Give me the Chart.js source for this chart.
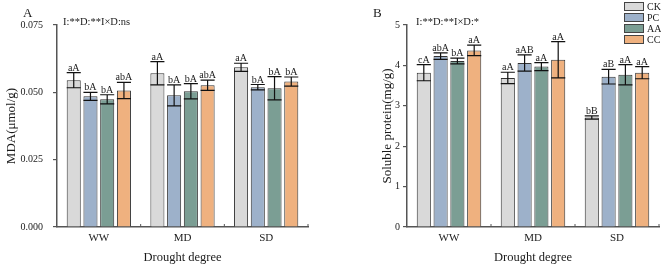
<!DOCTYPE html>
<html>
<head>
<meta charset="utf-8">
<script src="https://cdn.jsdelivr.net/npm/chart.js@4"></script>
<style>
  body { margin: 0; background: #fff; }
  #wrap { position: relative; width: 661px; height: 268px; }
  .panel { position: absolute; top: 0; height: 268px; }
</style>
</head>
<body>
<div id="wrap">
  <div class="panel" style="left:0;width:330px"><canvas id="chartA"></canvas></div>
  <div class="panel" style="left:330px;width:331px"><canvas id="chartB"></canvas></div>
</div>
<script>
const categories = ['WW', 'MD', 'SD'];
const treatments = ['CK', 'PC', 'AA', 'CC'];
const colors = ['#d9d9d9', '#9db1ca', '#7b9e94', '#efb17f'];

// MDA (umol/g)
const mdaCK = [0.0545, 0.0571, 0.0593];
const mdaPC = [0.0485, 0.0489, 0.0519];
const mdaAA = [0.0474, 0.0504, 0.0515];
const mdaCC = [0.0507, 0.0526, 0.0540];
const mdaErrCK = [0.0028, 0.0043, 0.0015];
const mdaErrPC = [0.0015, 0.0039, 0.0010];
const mdaErrAA = [0.0017, 0.0028, 0.0043];
const mdaErrCC = [0.0030, 0.0019, 0.0017];
const mdaLetCK = ['aA', 'aA', 'aA'];
const mdaLetPC = ['bA', 'bA', 'bA'];
const mdaLetAA = ['bA', 'bA', 'bA'];
const mdaLetCC = ['abA', 'abA', 'bA'];
const mdaTicks = [0, 0.025, 0.05, 0.075];

// Soluble protein (mg/g)
const protCK = [3.82, 3.69, 2.71];
const protPC = [4.23, 4.06, 3.72];
const protAA = [4.11, 3.97, 3.77];
const protCC = [4.37, 4.14, 3.82];
const protErrCK = [0.20, 0.14, 0.04];
const protErrPC = [0.08, 0.20, 0.18];
const protErrAA = [0.07, 0.10, 0.25];
const protErrCC = [0.13, 0.45, 0.15];
const protLetCK = ['cA', 'aA', 'bB'];
const protLetPC = ['abA', 'aAB', 'aB'];
const protLetAA = ['bA', 'aA', 'aA'];
const protLetCC = ['aA', 'aA', 'aA'];
const protTicks = [0, 1, 2, 3, 4, 5];

Chart.defaults.font.family = "'Liberation Serif', 'DejaVu Serif', serif";
Chart.defaults.color = '#1a1a1a';

const serif = "'Liberation Serif', serif";
const axisColor = '#555';

function makeDatasets(values, errors, letters) {
    return treatments.map(function(t, i) {
        return {
            label: t,
            data: values[i],
            errors: errors[i],
            letters: letters[i],
            backgroundColor: colors[i],
            borderColor: '#333',
            borderWidth: 1,
            categoryPercentage: 0.8,
            barPercentage: 0.84
        };
    });
}

// error bars, letters, small inner x ticks and text decorations
const extras = {
    id: 'extras',
    afterDatasetsDraw(chart, args, opts) {
        const ctx = chart.ctx;
        const y = chart.scales.y;
        const x = chart.scales.x;
        ctx.save();
        chart.data.datasets.forEach(function(ds, i) {
            const meta = chart.getDatasetMeta(i);
            meta.data.forEach(function(bar, j) {
                const v = ds.data[j], e = ds.errors[j];
                const yt = y.getPixelForValue(v + e);
                const yb = y.getPixelForValue(v - e);
                const hw = bar.width / 2;
                ctx.strokeStyle = '#111';
                ctx.lineWidth = 1.2;
                ctx.beginPath();
                ctx.moveTo(bar.x, yt); ctx.lineTo(bar.x, yb);
                ctx.moveTo(bar.x - hw, yt); ctx.lineTo(bar.x + hw, yt);
                ctx.moveTo(bar.x - hw, yb); ctx.lineTo(bar.x + hw, yb);
                ctx.stroke();
                ctx.fillStyle = '#1a1a1a';
                ctx.font = '10px ' + serif;
                ctx.textAlign = 'center';
                ctx.textBaseline = 'alphabetic';
                ctx.fillText(ds.letters[j], bar.x, yt - 2);
            });
        });
        // small upward ticks between categories
        ctx.strokeStyle = axisColor;
        ctx.lineWidth = 1;
        const bottom = chart.chartArea.bottom;
        const step = x.getPixelForTick(1) - x.getPixelForTick(0);
        for (let k = 0; k < categories.length; k++) {
            const px = x.getPixelForTick(k) + step / 2;
            ctx.beginPath();
            ctx.moveTo(px, bottom); ctx.lineTo(px, bottom - 3);
            ctx.stroke();
        }
        // panel letter and significance note
        ctx.fillStyle = '#1a1a1a';
        ctx.textAlign = 'left';
        ctx.textBaseline = 'middle';
        ctx.font = '13px ' + serif;
        ctx.fillText(opts.letter, opts.letterX, 14);
        ctx.font = '10.5px ' + serif;
        ctx.fillText(opts.note, chart.chartArea.left + opts.noteDx, 22);
        // legend
        if (opts.legend) {
            chart.data.datasets.forEach(function(ds, i) {
                const ly = 2 + i * 11;
                ctx.fillStyle = ds.backgroundColor;
                ctx.fillRect(294, ly, 20, 9);
                ctx.strokeStyle = '#444';
                ctx.lineWidth = 1;
                ctx.strokeRect(294.5, ly + 0.5, 19, 8);
                ctx.fillStyle = '#1a1a1a';
                ctx.font = '10px ' + serif;
                ctx.fillText(ds.label, 317, ly + 5);
            });
        }
        ctx.restore();
    }
};

function makeChart(id, datasets, cfg) {
    const ctx = document.getElementById(id).getContext('2d');
    return new Chart(ctx, {
        type: 'bar',
        data: { labels: categories, datasets: datasets },
        plugins: [extras],
        options: {
            responsive: true,
            maintainAspectRatio: false,
            animation: false,
            layout: { padding: { top: 25, right: cfg.right, left: 0, bottom: 0 } },
            plugins: {
                legend: { display: false },
                tooltip: { enabled: false },
                extras: cfg.extras
            },
            scales: {
                x: {
                    grid: { display: false, drawTicks: false },
                    border: { display: true, color: axisColor, width: 1.5 },
                    ticks: { font: { size: 11 }, padding: 5, color: '#1a1a1a' },
                    title: { display: true, text: 'Drought degree', font: { size: 12.5 }, padding: { top: 0, bottom: 3 }, color: '#1a1a1a' },
                    afterFit: function(s) { s.height = 41; }
                },
                y: {
                    min: 0,
                    max: cfg.max,
                    afterBuildTicks: function(s) { s.ticks = cfg.ticks.map(function(v) { return { value: v }; }); },
                    grid: { drawOnChartArea: false, drawTicks: true, tickLength: 4, color: axisColor, lineWidth: 1.2 },
                    border: { display: true, color: axisColor, width: 1.5 },
                    ticks: { font: { size: cfg.tickSize }, padding: cfg.tickPad, color: '#1a1a1a', callback: cfg.fmt },
                    title: { display: true, text: cfg.ytitle, font: { size: 13 }, padding: { top: cfg.titlePad, bottom: 0 }, color: '#1a1a1a' },
                    afterFit: function(s) { s.width = cfg.yWidth; }
                }
            }
        }
    });
}

makeChart('chartA',
    makeDatasets([mdaCK, mdaPC, mdaAA, mdaCC], [mdaErrCK, mdaErrPC, mdaErrAA, mdaErrCC], [mdaLetCK, mdaLetPC, mdaLetAA, mdaLetCC]),
    {
        right: 22, max: 0.075, ticks: mdaTicks, tickSize: 10, tickPad: 10, yWidth: 57, titlePad: 4,
        ytitle: 'MDA(μmol/g)',
        fmt: function(v) { return Number(v).toFixed(3); },
        extras: { letter: 'A', letterX: 23, note: 'I:**D:**I×D:ns', noteDx: 6, legend: false }
    });

makeChart('chartB',
    makeDatasets([protCK, protPC, protAA, protCC], [protErrCK, protErrPC, protErrAA, protErrCC], [protLetCK, protLetPC, protLetAA, protLetCC]),
    {
        right: 2, max: 5, ticks: protTicks, tickSize: 10, tickPad: 3, yWidth: 77, titlePad: 50,
        ytitle: 'Soluble protein(mg/g)',
        fmt: function(v) { return String(v); },
        extras: { letter: 'B', letterX: 43, note: 'I:**D:**I×D:*', noteDx: 9, legend: true }
    });
</script>
</body>
</html>
